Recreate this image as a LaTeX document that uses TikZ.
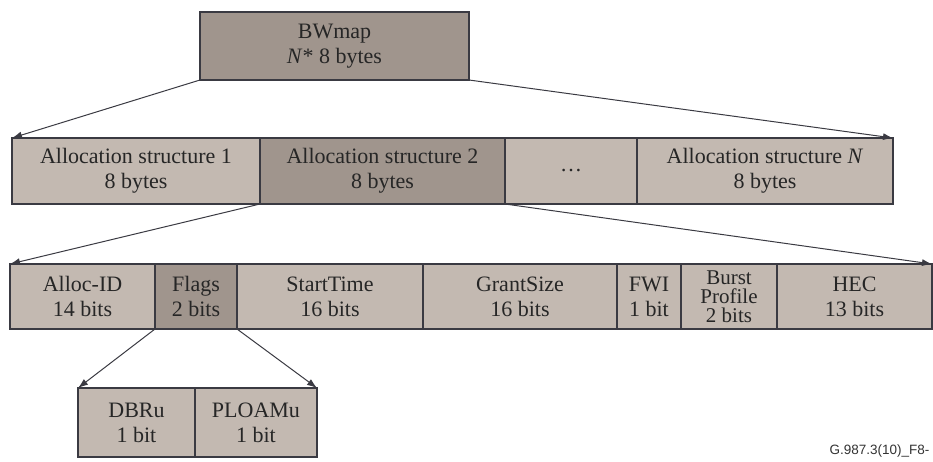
\documentclass[tikz,border=0pt]{standalone}
\usepackage{fontspec}
\setmainfont{Liberation Serif}
\newfontfamily\figfont{Liberation Sans}
\usetikzlibrary{positioning, arrows.meta}
\definecolor{cellfill}{HTML}{C3B9B1}
\definecolor{cellhi}{HTML}{A0958D}
\definecolor{cellline}{HTML}{3A3A42}

\begin{document}
\begin{tikzpicture}[x=1pt, y=-1pt, node distance=0pt,
        every node/.style={font=\fontsize{22}{25}\selectfont, text=black!85},
        cell/.style={rectangle, draw=cellline, line width=1.3pt, fill=cellfill,
          inner sep=0pt, outer sep=0pt, align=center},
        hi/.style={cell, fill=cellhi},
        arr/.style={-{Latex[length=10pt, width=7pt]}, line width=1pt, draw=cellline}]
      \useasboundingbox (0,0) rectangle (933,461);
      \node[hi, minimum width=269pt, minimum height=68pt, anchor=north west] (bw) at (200,12)
        {BWmap\\\textit{N}* 8 bytes};
      \node[cell, minimum width=248pt, minimum height=66pt, anchor=north west] (as1) at (12,138)
        {Allocation structure 1\\8 bytes};
      \node[hi, minimum width=245pt, minimum height=66pt, right=of as1] (as2)
        {Allocation structure 2\\8 bytes};
      \node[cell, minimum width=132pt, minimum height=66pt, right=of as2] (asd) {\dots};
      \node[cell, minimum width=256pt, minimum height=66pt, right=of asd] (asn)
        {Allocation structure \textit{N}\\8 bytes};
      \node[cell, minimum width=145pt, minimum height=65pt, anchor=north west] (aid) at (10,264)
        {Alloc-ID\\14 bits};
      \node[hi, minimum width=82pt, minimum height=65pt, right=of aid] (flg) {Flags\\2 bits};
      \node[cell, minimum width=186pt, minimum height=65pt, right=of flg] (st) {StartTime\\16 bits};
      \node[cell, minimum width=194pt, minimum height=65pt, right=of st] (gs) {GrantSize\\16 bits};
      \node[cell, minimum width=64pt, minimum height=65pt, right=of gs] (fwi) {FWI\\1 bit};
      \node[cell, minimum width=96pt, minimum height=65pt, right=of fwi, font=\fontsize{21}{19}\selectfont]
        (bp) {Burst\\Profile\\2 bits};
      \node[cell, minimum width=155pt, minimum height=65pt, right=of bp] (hec) {HEC\\13 bits};
      \node[cell, minimum width=117pt, minimum height=69pt, anchor=north west] (dbru) at (78,388)
        {DBRu\\1 bit};
      \node[cell, minimum width=122pt, minimum height=69pt, right=of dbru] (ploam) {PLOAMu\\1 bit};
      \node[anchor=base east, font=\figfont\fontsize{13.5}{15}\selectfont, text=black!80] (fig)
        at (933,454) {G.987.3(10)\_F8-};
      \draw[arr] (bw.south west) -- (as1.north west);
      \draw[arr] (bw.south east) -- (asn.north east);
      \draw[arr] (as2.south west) -- (aid.north west);
      \draw[arr] (as2.south east) -- (hec.north east);
      \draw[arr] (flg.south west) -- (dbru.north west);
      \draw[arr] (flg.south east) -- (ploam.north east);
    \end{tikzpicture}
\end{document}
